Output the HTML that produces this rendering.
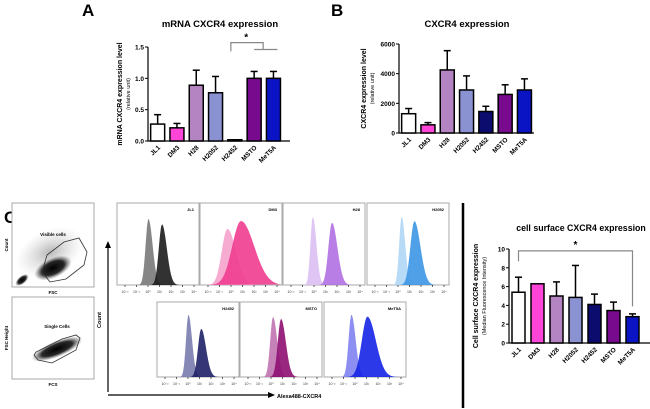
<!DOCTYPE html>
<html><head><meta charset="utf-8"><style>
html,body{margin:0;padding:0;background:#fff;}
svg{display:block;font-family:"Liberation Sans",Arial,sans-serif;}
</style></head><body>
<svg id="fig" width="650" height="409" viewBox="0 0 650 409">
<text x="82" y="16" font-size="17" font-weight="bold">A</text>
<text x="331" y="16" font-size="17" font-weight="bold">B</text>
<text x="4" y="223" font-size="17" font-weight="bold">C</text>
<line x1="463" y1="203" x2="463" y2="408" stroke="#000" stroke-width="2.5"/>
<g id="flow"></g>
<g id="chartA"></g>
<g id="chartB"></g>
<g id="chartC"></g>
</svg>
<script>
const categories = ["JL1","DM3","H28","H2052","H2452","MSTO","MeT5A"];
const colorsBar = ["#ffffff","#ff44d8","#b383c2","#8b92d2","#0c0c6e","#780a8e","#0a14c4"];
const valuesA = [0.27,0.21,0.89,0.77,0.02,1.0,1.0];
const errorsA = [0.15,0.07,0.24,0.26,0.0,0.11,0.11];
const ticksA = [0,0.5,1.0,1.5];
const tickLabelsA = ["0.0","0.5","1.0","1.5"];
const valuesB = [1300,550,4250,2900,1450,2600,2900];
const errorsB = [350,150,1300,950,350,650,750];
const ticksB = [0,2000,4000,6000];
const tickLabelsB = ["0","2000","4000","6000"];
const valuesC = [5.4,6.3,5.0,4.85,4.1,3.45,2.8];
const errorsC = [1.6,0,1.5,3.4,1.1,0.9,0.3];
const ticksC = [0,2,4,6,8,10];
const tickLabelsC = ["0","2","4","6","8","10"];
const histCells = ["JL1","DM3","H28","H2052","H2452","MSTO","MeT5A"];
const histCtrlPeak = [0.38,0.33,0.36,0.42,0.38,0.40,0.33];
const histStainPeak = [0.55,0.50,0.60,0.58,0.54,0.50,0.53];
const histCtrlH = [0.85,0.72,0.88,0.88,0.88,0.85,0.88];
const histStainH = [0.78,0.82,0.80,0.82,0.68,0.82,0.85];
const histCtrlW = [0.035,0.07,0.03,0.03,0.03,0.035,0.035];
const histStainW = [0.04,0.11,0.045,0.05,0.04,0.04,0.07];
const histCtrlColor = ["#808080","#f6a6cf","#ddc2f2","#b3d9f7","#7f82b2","#c27ab4","#8688f0"];
const histStainColor = ["#1c1c1c","#f03c8f","#b070e2","#3c96e4","#1e2066","#8e0f72","#1424e6"];

const NS="http://www.w3.org/2000/svg";
function mk(parent,tag,attrs){const e=document.createElementNS(NS,tag);for(const k in attrs)e.setAttribute(k,attrs[k]);parent.appendChild(e);return e;}

function barChart(g,opt,vals,errs,ticks,tlabels){
  const y=v=>opt.y0-(v-opt.vmin)/(opt.vmax-opt.vmin)*(opt.y0-opt.y1);
  const x=i=>opt.xs+opt.step*(i+0.5);
  let t=mk(g,"text",{x:opt.titleX,y:opt.titleY,"font-size":opt.titleSize||"9.5","font-weight":"bold","text-anchor":"middle"});
  t.textContent=opt.title;
  
  
  let yt=mk(g,"text",{transform:`translate(${opt.ytX},${(opt.y0+opt.y1)/2}) rotate(-90)`,"font-size":"7","font-weight":"bold","text-anchor":"middle"});
  
  
  let s1=mk(yt,"tspan",{x:0,dy:0});s1.textContent=opt.ytitle1;
  let s2=mk(yt,"tspan",{x:0,dy:8,"font-size":"5.5","font-weight":"normal"});s2.textContent=opt.ytitle2;
  let ax=mk(g,"path",{d:`M${opt.xs} ${y(ticks[ticks.length-1])}V${opt.y0}H${opt.xe}`,fill:"none",stroke:"#000","stroke-width":"1.2"});
  
  
  ticks.forEach((tv,i)=>{
    mk(g,"line",{x1:opt.xs-3,x2:opt.xs,y1:y(tv),y2:y(tv),stroke:"#000","stroke-width":"1"});
    let tl=mk(g,"text",{x:opt.xs-4,y:y(tv)+2.5,"font-size":"6.5","font-weight":"bold","text-anchor":"end"});
    tl.textContent=tlabels[i];
    
    
  });
  vals.forEach((v,i)=>{
    const cx=x(i),w=opt.bw;
    if(errs[i]>0){
      mk(g,"line",{x1:cx,x2:cx,y1:y(v),y2:y(v+errs[i]),stroke:"#000","stroke-width":"1.5"});
      mk(g,"line",{x1:cx-3.5,x2:cx+3.5,y1:y(v+errs[i]),y2:y(v+errs[i]),stroke:"#000","stroke-width":"1.5"});
    }
    let r=mk(g,"rect",{x:cx-w/2,y:y(v),width:w,height:Math.max(opt.y0-y(v),1),fill:colorsBar[i],stroke:"#000","stroke-width":"1.5"});
    
    
    let l=mk(g,"text",{transform:`translate(${cx+3},${opt.y0+7}) rotate(-45)`,"font-size":"6.5","font-weight":"bold","text-anchor":"end"});
    l.textContent=categories[i];
    
    
  });
  return {x,y};
}

const A=barChart(document.getElementById("chartA"),{xs:148,xe:290,step:19.3,bw:14,y0:141,y1:47,vmin:0,vmax:1.5,title:"mRNA CXCR4 expression",titleX:220,titleY:27,ytX:122,ytitle1:"mRNA CXCR4 expression level",ytitle2:"(relative unit)"},valuesA,errorsA,ticksA,tickLabelsA);
{const g=document.getElementById("chartA");
 let b=mk(g,"path",{d:`M${A.x(4)-4} ${A.y(1.43)}V${A.y(1.57)}H${A.x(5)+9}V${A.y(1.46)}M${A.x(5)} ${A.y(1.46)}H${A.x(6)+4}`,fill:"none",stroke:"#888","stroke-width":"1.2"});
 
 let s=mk(g,"text",{x:A.x(5)-8,y:A.y(1.6),"font-size":"10","font-weight":"bold","text-anchor":"middle"});s.textContent="*";
 }

barChart(document.getElementById("chartB"),{xs:399,xe:534,step:19.3,bw:14,y0:133,y1:44,vmin:0,vmax:6000,title:"CXCR4 expression",titleX:467,titleY:27,ytX:366,ytitle1:"CXCR4 expression level",ytitle2:"(relative unit)"},valuesB,errorsB,ticksB,tickLabelsB);

const C=barChart(document.getElementById("chartC"),{xs:509,xe:650,step:19,bw:13,y0:343,y1:249,vmin:0,vmax:10,title:"cell surface CXCR4 expression",titleSize:"8.8",titleX:581,titleY:231,ytX:478,ytitle1:"Cell surface CXCR4 expression",ytitle2:"(Median Fluorescence Intensity)"},valuesC,errorsC,ticksC,tickLabelsC);
{const g=document.getElementById("chartC");
 let b=mk(g,"path",{d:`M${C.x(0)} ${C.y(8.7)}V${C.y(9.8)}H${C.x(6)}V${C.y(3.9)}`,fill:"none",stroke:"#888","stroke-width":"1.2"});
 
 let s=mk(g,"text",{x:(C.x(0)+C.x(6))/2,y:C.y(10.1),"font-size":"10","font-weight":"bold","text-anchor":"middle"});s.textContent="*";
 }

// flow cytometry
const F=document.getElementById("flow");
mk(F,"defs",{}).innerHTML='<radialGradient id="dens"><stop offset="0" stop-color="#000"/><stop offset="0.6" stop-color="#111" stop-opacity="0.9"/><stop offset="1" stop-color="#555" stop-opacity="0"/></radialGradient><radialGradient id="halo"><stop offset="0" stop-color="#888" stop-opacity="0.6"/><stop offset="1" stop-color="#bbb" stop-opacity="0"/></radialGradient>';
function box(x,y,w,h,name){let r=mk(F,"rect",{x,y,width:w,height:h,fill:"#fff",stroke:"#aaa","stroke-width":"1"});return r;}
function txt(x,y,s,sz,name,anchor,rot){let t=mk(F,"text",{x,y,"font-size":sz,"font-weight":"bold","text-anchor":anchor||"middle"});if(rot)t.setAttribute("transform",`rotate(-90 ${x} ${y})`);t.textContent=s;return t;}
box(12,203,82,84,"scatter-plot-fsc");
mk(F,"ellipse",{cx:50,cy:252,rx:36,ry:22,fill:"url(#halo)",transform:"rotate(-25 50 252)"});
mk(F,"ellipse",{cx:53,cy:268,rx:20,ry:10,fill:"url(#dens)",transform:"rotate(-25 53 268)"});
mk(F,"ellipse",{cx:22,cy:280,rx:8,ry:4,fill:"url(#dens)",transform:"rotate(-40 22 280)"});
mk(F,"path",{d:"M47 255 L64 242 L79 238 L87 252 L84 265 L66 279 L50 282 L42 272 Z",fill:"none",stroke:"#333","stroke-width":"0.8"});
txt(53,236,"Visible cells","4.5","gate-label");
txt(53,294,"FSC","4.5","x-axis-label");
txt(8,245,"Count","4.5","y-axis-label","middle",true);
box(12,297,82,82,"scatter-plot-singlets");
mk(F,"ellipse",{cx:57,cy:349,rx:27,ry:8,fill:"url(#dens)",transform:"rotate(-22 57 349)"});
mk(F,"path",{d:"M34 355 L38 360 L52 363 L76 350 L80 338 L76 335 L62 339 L36 352 Z",fill:"none",stroke:"#333","stroke-width":"0.8"});
txt(57,328,"Single Cells","4.5","gate-label");
txt(53,386,"FCS","4.5","x-axis-label");
txt(8,338,"FSC Height","4.5","y-axis-label","middle",true);

let ar=mk(F,"path",{d:"M108 392V245M108 395H270",fill:"none",stroke:"#000","stroke-width":"1.2"});

mk(F,"path",{d:"M105 248L108 241L111 248Z",fill:"#000"});
mk(F,"path",{d:"M268 392L275 395L268 398Z",fill:"#000"});
txt(277,398,"Alexa488-CXCR4","5.5","x-axis-title","start");
txt(101,320,"Count","5.5","y-axis-title","middle",true);

const hb=[[117,203],[200,203],[283,203],[367,203],[157,302],[240,302],[324,302]];
histCells.forEach((name,i)=>{
  const [bx,by]=hb[i],w=82,h=i<4?82:75;
  box(bx,by,w,h,"histogram-"+name.toLowerCase());
  const base=by+h;
  function curve(c,wd,ht){
    let d=`M${bx+1} ${base}`;
    for(let k=0;k<=80;k++){const u=k/80;let v=ht*Math.exp(-Math.pow((u-c)/wd,2)/2);
      if(u>c)v=ht*Math.exp(-Math.pow((u-c)/(wd*1.5),2)/2);
      d+=`L${bx+1+u*(w-2)} ${base-v*(h-4)}`;}
    return d+"Z";}
  let p1=mk(F,"path",{d:curve(histCtrlPeak[i],histCtrlW[i],histCtrlH[i]),fill:histCtrlColor[i],stroke:"none","fill-opacity":"0.95"});
  
  let p2=mk(F,"path",{d:curve(histStainPeak[i],histStainW[i],histStainH[i]),fill:histStainColor[i],stroke:"none","fill-opacity":"0.9"});
  
  txt(bx+w-5,by+8,name,"4","histogram-label","end");
  for(let k=0;k<7;k++){const tx=bx+8+k*11.5;mk(F,"line",{x1:tx,x2:tx,y1:base,y2:base+2,stroke:"#000","stroke-width":"0.6"});
    let tt=mk(F,"text",{x:tx,y:base+8,"font-size":"3.5","text-anchor":"middle",fill:"#333"});tt.textContent="10"+["⁻²","⁻¹","⁰","¹","²","³","⁴"][k];}
});
</script>
</body></html>
